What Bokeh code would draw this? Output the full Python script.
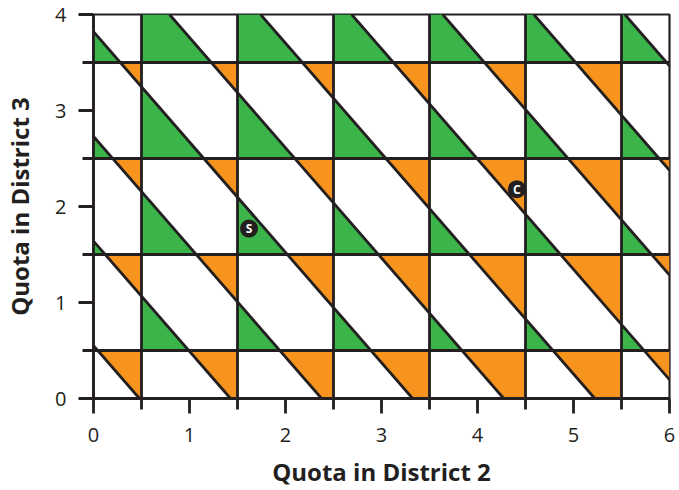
import numpy as np
from bokeh.plotting import figure
from bokeh.models import FixedTicker, Range1d
from bokeh.embed import file_html
from bokeh.resources import INLINE
from bokeh.core.properties import value

# ---- data ----
quota2_ticks = [0, 1, 2, 3, 4, 5, 6]
quota3_ticks = [0, 1, 2, 3, 4]
round2_bounds = [0.5, 1.5, 2.5, 3.5, 4.5, 5.5]
round3_bounds = [0.5, 1.5, 2.5, 3.5]
diag_slope = -1.149
diag_intercepts = [0.55, 1.64, 2.73, 3.82, 4.91, 6.00, 7.09, 8.18, 9.27, 10.36]
marker_labels = ["S", "C"]
marker_q2 = [1.62, 4.41]
marker_q3 = [1.77, 2.18]

X_MIN, X_MAX = 0.0, 6.0
Y_MIN, Y_MAX = 0.0, 4.0

INK = "#231F20"
GREEN = "#3BB44A"
ORANGE = "#F7941D"
FONT = "Open Sans"


def clip(poly, a, b, c):
    """keep the part of poly with a*x + b*y <= c"""
    out = []
    n = len(poly)
    for i in range(n):
        P = poly[i]
        Q = poly[(i + 1) % n]
        fp = a * P[0] + b * P[1] - c
        fq = a * Q[0] + b * Q[1] - c
        if fp <= 0:
            out.append(P)
        if fp * fq < 0:
            t = fp / (fp - fq)
            out.append((P[0] + t * (Q[0] - P[0]), P[1] + t * (Q[1] - P[1])))
    return out


x_edges = [X_MIN] + round2_bounds + [X_MAX]
y_edges = [Y_MIN] + round3_bounds + [Y_MAX]

pxs, pys, pcols = [], [], []
nlines = len(diag_intercepts)
for i in range(len(x_edges) - 1):
    for j in range(len(y_edges) - 1):
        x0, x1 = x_edges[i], x_edges[i + 1]
        y0, y1 = y_edges[j], y_edges[j + 1]
        r2, r3 = i, j
        cell = [(x0, y0), (x1, y0), (x1, y1), (x0, y1)]
        for m in range(-1, nlines):
            poly = cell
            if m >= 0:
                poly = clip(poly, diag_slope, -1.0, -diag_intercepts[m])
            if m + 1 < nlines and poly:
                poly = clip(poly, -diag_slope, 1.0, diag_intercepts[m + 1])
            if len(poly) < 3:
                continue
            k = r2 + r3 - m
            if k == 1:
                continue
            pxs.append([pt[0] for pt in poly])
            pys.append([pt[1] for pt in poly])
            pcols.append(GREEN if k > 1 else ORANGE)

# diagonal segments clipped to the frame
dx0, dy0, dx1, dy1 = [], [], [], []
s = -diag_slope
for b in diag_intercepts:
    xa = max(X_MIN, (b - Y_MAX) / s)
    xb = min(X_MAX, b / s)
    if xb <= xa:
        continue
    dx0.append(xa); dy0.append(b + diag_slope * xa)
    dx1.append(xb); dy1.append(b + diag_slope * xb)

p = figure(width=679, height=490,
           x_range=Range1d(X_MIN, X_MAX), y_range=Range1d(Y_MIN, Y_MAX),
           output_backend="svg", toolbar_location=None,
           min_border_left=93, min_border_right=10,
           min_border_top=14, min_border_bottom=92)
p.grid.visible = False
p.background_fill_color = "white"
p.border_fill_color = "white"
p.outline_line_color = INK
p.outline_line_width = 2.2

p.patches(pxs, pys, fill_color=pcols, line_color=None)

lw = 2.8
p.segment(x0=round2_bounds, y0=[Y_MIN] * len(round2_bounds),
          x1=round2_bounds, y1=[Y_MAX] * len(round2_bounds),
          line_color=INK, line_width=lw)
p.segment(x0=[X_MIN] * len(round3_bounds), y0=round3_bounds,
          x1=[X_MAX] * len(round3_bounds), y1=round3_bounds,
          line_color=INK, line_width=lw)
p.segment(x0=dx0, y0=dy0, x1=dx1, y1=dy1, line_color=INK, line_width=lw)

p.scatter(marker_q2, marker_q3, size=18, fill_color=INK, line_color=None)
p.text(x=marker_q2, y=marker_q3, text=marker_labels,
       text_align="center", text_baseline="middle",
       text_color="white", text_font_style="bold", text_font_size="12px",
       text_font=value(FONT))

p.xaxis.ticker = FixedTicker(ticks=quota2_ticks, minor_ticks=round2_bounds)
p.yaxis.ticker = FixedTicker(ticks=quota3_ticks, minor_ticks=round3_bounds)
p.xaxis.axis_label = "Quota in District 2"
p.yaxis.axis_label = "Quota in District 3"
for ax in (p.xaxis, p.yaxis):
    ax.axis_line_color = INK
    ax.axis_line_width = lw
    ax.major_tick_line_color = INK
    ax.major_tick_line_width = lw
    ax.minor_tick_line_color = INK
    ax.minor_tick_line_width = lw
    ax.major_tick_in = 0
    ax.major_tick_out = 15
    ax.minor_tick_in = 0
    ax.minor_tick_out = 11
    ax.major_label_text_font = FONT
    ax.major_label_text_font_size = "20px"
    ax.major_label_text_color = INK
    ax.axis_label_text_font = FONT
    ax.axis_label_text_font_style = "bold"
    ax.axis_label_text_font_size = "24px"
    ax.axis_label_text_color = INK
p.xaxis.major_label_standoff = 14
p.yaxis.major_label_standoff = 12
p.xaxis.axis_label_standoff = 10
p.yaxis.axis_label_standoff = 16

open("out.html", "w").write(file_html(p, INLINE))
